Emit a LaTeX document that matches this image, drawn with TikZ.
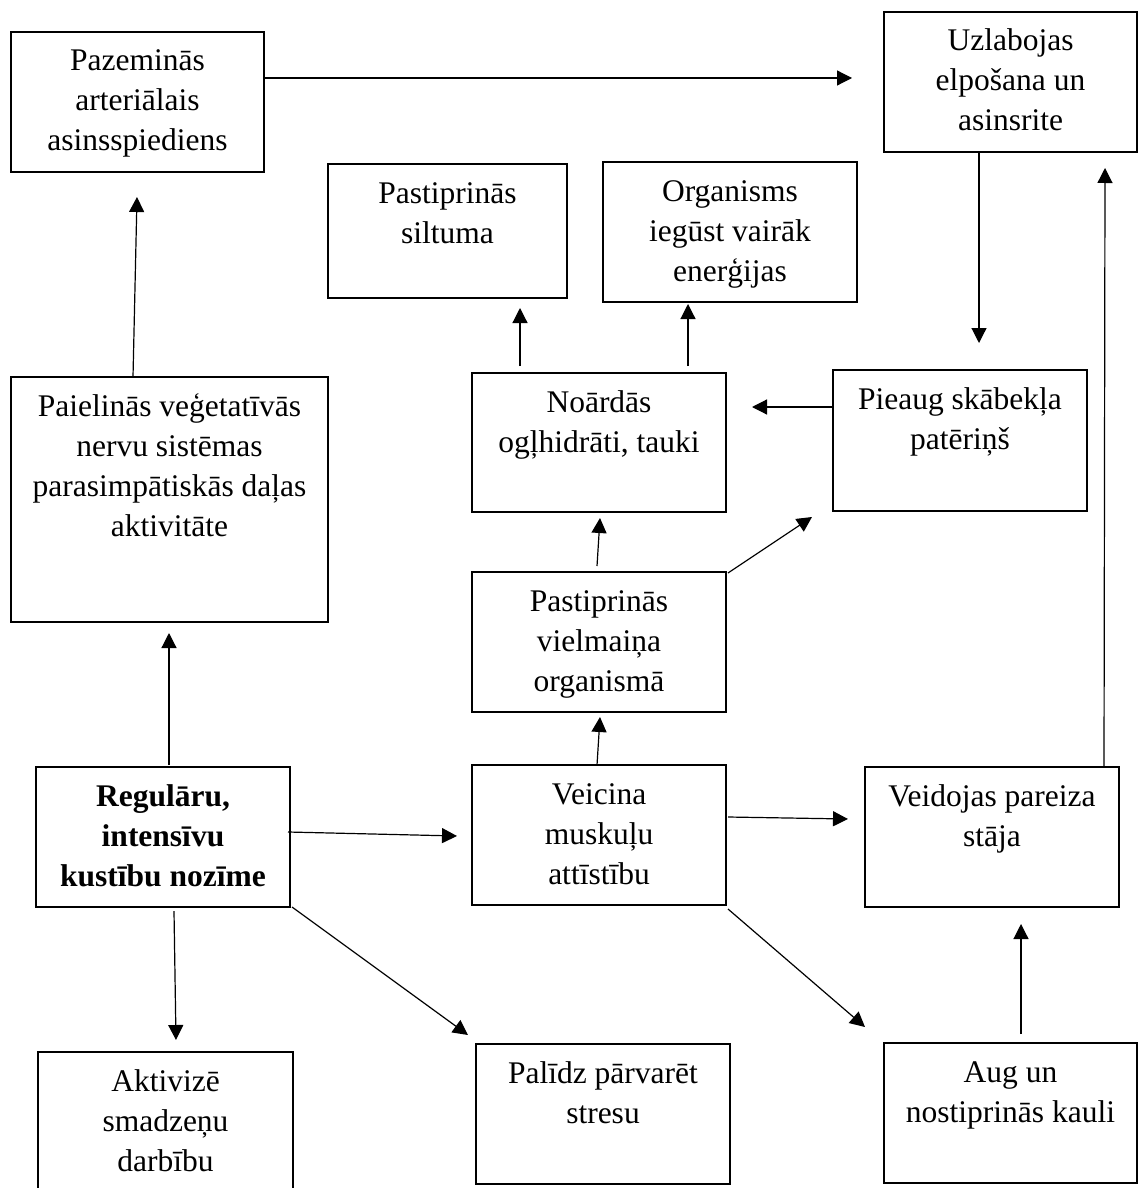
\documentclass[tikz,border=0pt]{standalone}
\usepackage{fontspec}
\setmainfont{Liberation Serif}
\usetikzlibrary{arrows.meta,calc}
\tikzset{
  box/.style={draw, line width=1.5pt, inner sep=0pt, outer sep=0pt, anchor=north west},
  openbox/.style={inner sep=0pt, outer sep=0pt, anchor=north west},
  conn/.style={line width=1.2pt, -{Triangle[length=15pt,width=15pt]}},
}
\newcommand{\boxtext}[3]{\parbox[c][#2pt][t]{#1pt}{\centering\fontsize{31.5pt}{40pt}\selectfont\rule{0pt}{39pt}#3}}
\begin{document}
\begin{tikzpicture}[x=1pt,y=-1pt]
\useasboundingbox (0,0) rectangle (1138,1188);
% boxes
\node[box] (paz) at (11,32) {\boxtext{253}{140}{Pazeminās\\arteriālais\\asinsspiediens}};
\node[box] (uzl) at (884,12) {\boxtext{253}{140}{Uzlabojas\\elpošana un\\asinsrite}};
\node[box] (silt) at (328,164) {\boxtext{239}{134}{Pastiprinās\\siltuma}};
\node[box] (org) at (603,162) {\boxtext{254}{140}{Organisms\\iegūst vairāk\\enerģijas}};
\node[box] (pai) at (11,377) {\boxtext{317}{245}{Paielinās veģetatīvās\\nervu sistēmas\\parasimpātiskās daļas\\aktivitāte}};
\node[box] (noa) at (472,373) {\boxtext{254}{139}{Noārdās\\ogļhidrāti, tauki}};
\node[box] (pie) at (833,370) {\boxtext{254}{141}{Pieaug skābekļa\\patēriņš}};
\node[box] (vie) at (472,572) {\boxtext{254}{140}{Pastiprinās\\vielmaiņa\\organismā}};
\node[box] (reg) at (36,767) {\boxtext{254}{140}{\bfseries Regulāru,\\intensīvu\\kustību nozīme}};
\node[box] (vei) at (472,765) {\boxtext{254}{140}{Veicina\\muskuļu\\attīstību}};
\node[box] (ved) at (865,767) {\boxtext{254}{140}{Veidojas pareiza\\stāja}};
\node[openbox] (akt) at (38,1052) {\boxtext{255}{136}{Aktivizē\\smadzeņu\\darbību}};
\draw[line width=1.5pt] (akt.south west) -- (akt.north west) -- (akt.north east) -- (akt.south east);
\node[box] (pal) at (476,1044) {\boxtext{254}{140}{Palīdz pārvarēt\\stresu}};
\node[box] (aug) at (884,1043) {\boxtext{253}{140}{Aug un\\nostiprinās kauli}};
% connectors
\draw[conn] ($(paz.north west)+(253,46)$) -- ($(uzl.north west)+(-32,66)$);
\draw[conn] ($(uzl.north west)+(95,140)$) -- ($(pie.north west)+(146,-27)$);
\draw[conn] ($(pai.north west)+(122,0)$) -- ($(paz.north west)+(126,165)$);
\draw[conn] ($(noa.north west)+(48,-7)$) -- ($(silt.north west)+(192,144)$);
\draw[conn] ($(noa.north west)+(216,-7)$) -- ($(org.north west)+(85,142)$);
\draw[conn] ($(pie.north west)+(0,37)$) -- ($(noa.north west)+(280,34)$);
\draw[conn] ($(vie.north west)+(125,-6)$) -- ($(noa.north west)+(128,145)$);
\draw[conn] ($(vie.north west)+(256,1)$) -- ($(pie.north west)+(-21,147)$);
\draw[conn] ($(vei.north west)+(125,0)$) -- ($(vie.north west)+(128,145)$);
\draw[conn] ($(reg.north west)+(133,-2)$) -- ($(pai.north west)+(158,256)$);
\draw[conn] ($(reg.north west)+(252,65)$) -- ($(vei.north west)+(-15,71)$);
\draw[conn] ($(reg.north west)+(138,144)$) -- ($(akt.north west)+(138,-12)$);
\draw[conn] ($(reg.north west)+(256,140)$) -- ($(pal.north west)+(-8,-9)$);
\draw[conn] ($(vei.north west)+(256,52)$) -- ($(ved.north west)+(-17,52)$);
\draw[conn] ($(vei.north west)+(256,144)$) -- ($(aug.north west)+(-19,-16)$);
\draw[conn] ($(aug.north west)+(137,-9)$) -- ($(ved.north west)+(156,157)$);
\draw[conn] ($(ved.north west)+(239,0)$) -- ($(uzl.north west)+(221,156)$);
\end{tikzpicture}
\end{document}
